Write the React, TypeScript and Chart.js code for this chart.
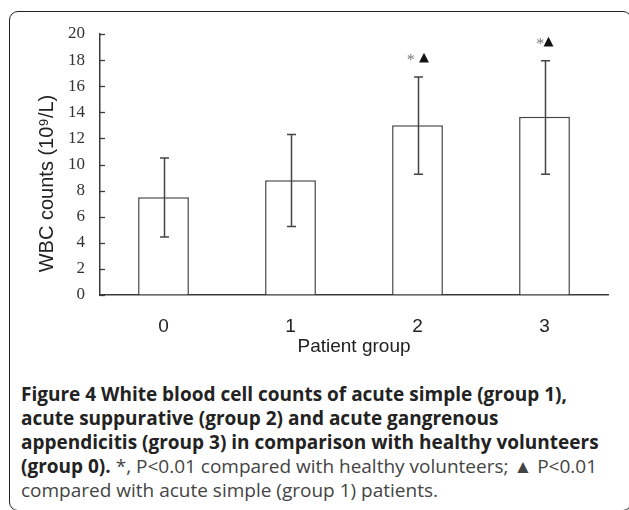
import React, { useEffect, useRef } from "react";
import { Chart, registerables } from "chart.js";

Chart.register(...registerables);

const groups = ["0", "1", "2", "3"];
const meanWBC = [7.5, 8.8, 13.0, 13.65];
const errLow = [4.45, 5.25, 9.25, 9.25];
const errHigh = [10.5, 12.3, 16.7, 17.95];
const marks = ["", "", "* ▲", "*▲"];
const yTicks = [0, 2, 4, 6, 8, 10, 12, 14, 16, 18, 20];
const xTitle = "Patient group";
const yTitle = "WBC counts (10⁹/L)";

const lineColor = "#3a3a3a";

const extrasPlugin = {
  id: "extras",
  afterDatasetsDraw(chart: any) {
    const ctx = chart.ctx;
    const ys = chart.scales.y;
    const area = chart.chartArea;
    const meta = chart.getDatasetMeta(0);
    ctx.save();
    // inner y tick marks
    ctx.strokeStyle = lineColor;
    ctx.lineWidth = 1.3;
    yTicks.forEach((v) => {
      const py = Math.round(ys.getPixelForValue(v)) + 0.5;
      ctx.beginPath();
      ctx.moveTo(area.left, py);
      ctx.lineTo(area.left + 5, py);
      ctx.stroke();
    });
    // error bars
    ctx.lineWidth = 1.5;
    ctx.strokeStyle = "#444";
    meta.data.forEach((el: any, i: number) => {
      const x = Math.round(el.x) + 0.5;
      const yH = ys.getPixelForValue(errHigh[i]);
      const yL = ys.getPixelForValue(errLow[i]);
      ctx.beginPath();
      ctx.moveTo(x, yH);
      ctx.lineTo(x, yL);
      ctx.moveTo(x - 4.5, yH);
      ctx.lineTo(x + 4.5, yH);
      ctx.moveTo(x - 4.5, yL);
      ctx.lineTo(x + 4.5, yL);
      ctx.stroke();
      // significance marks
      const s = marks[i];
      if (s) {
        const fontFor = (c: string) =>
          c === "▲" ? "oblique 13px 'DejaVu Sans'" : "italic 16px 'Liberation Serif'";
        const widths = s.split("").map((c) => {
          ctx.font = fontFor(c);
          return c === " " ? 5 : ctx.measureText(c).width;
        });
        const total = widths.reduce((a, b) => a + b, 0);
        let cx = el.x - total / 2;
        const cy = yH - 19;
        ctx.textBaseline = "middle";
        ctx.textAlign = "left";
        s.split("").forEach((c, k) => {
          if (c !== " ") {
            ctx.font = fontFor(c);
            ctx.fillStyle = c === "▲" ? "#111" : "#777";
            ctx.fillText(c, cx, c === "*" ? cy + 3 : cy);
          }
          cx += widths[k];
        });
      }
    });
    // axis titles
    ctx.fillStyle = "#222";
    ctx.textAlign = "center";
    ctx.textBaseline = "middle";
    ctx.font = "19px 'Liberation Sans'";
    ctx.fillText(xTitle, (area.left + area.right) / 2, area.bottom + 52);
    ctx.translate(area.left - 53, (area.top + area.bottom) / 2 + 19);
    ctx.rotate(-Math.PI / 2);
    ctx.font = "20px 'Liberation Sans'";
    ctx.fillText(yTitle, 0, 0);
    ctx.restore();
  },
};

export default function App() {
  const ref = useRef<HTMLCanvasElement | null>(null);
  useEffect(() => {
    if (!ref.current) return;
    const chart = new Chart(ref.current, {
      type: "bar",
      data: {
        labels: groups,
        datasets: [
          {
            data: meanWBC,
            backgroundColor: "#ffffff",
            borderColor: "#444",
            borderWidth: 1.5,
            barPercentage: 0.4,
            categoryPercentage: 1.0,
          },
        ],
      },
      options: {
        animation: false,
        responsive: false,
        devicePixelRatio: 1,
        layout: { padding: { left: 0, right: 21, top: 34, bottom: 0 } },
        plugins: { legend: { display: false }, tooltip: { enabled: false } },
        scales: {
          x: {
            grid: { display: false, drawTicks: false },
            border: { display: true, color: lineColor, width: 1.5 },
            ticks: {
              padding: 20,
              color: "#222",
              font: { family: "'Liberation Sans'", size: 19 },
            },
            afterFit: (axis: any) => {
              axis.height = 75;
            },
          },
          y: {
            min: 0,
            max: 20,
            grid: { display: true, drawOnChartArea: false, drawTicks: false },
            border: { display: true, color: lineColor, width: 1.5 },
            ticks: {
              stepSize: 2,
              padding: 15,
              color: "#333",
              font: { family: "'Liberation Serif'", size: 17 },
            },
            afterFit: (axis: any) => {
              axis.width = 100;
            },
          },
        },
      },
      plugins: [extrasPlugin],
    });
    return () => chart.destroy();
  }, []);

  return (
    <div
      style={{
        position: "absolute",
        left: 0,
        top: 0,
        width: 629,
        height: 510,
        overflow: "hidden",
        background: "#fff",
      }}
    >
      <div
        style={{
          position: "absolute",
          left: 9,
          top: 11,
          width: 623,
          height: 500,
          border: "1.6px solid #222",
          borderRadius: 9,
          boxSizing: "border-box",
        }}
      />
      <canvas
        ref={ref}
        width={629}
        height={370}
        style={{ position: "absolute", left: 0, top: 0, width: 629, height: 370 }}
      />
      <div
        style={{
          position: "absolute",
          left: 21,
          top: 382,
          fontFamily: "'Open Sans', sans-serif",
          fontSize: 19,
          lineHeight: "24px",
          color: "#444",
          whiteSpace: "nowrap",
        }}
      >
        <b style={{ color: "#222" }}>Figure 4 White blood cell counts of acute simple (group 1),</b>
        <br />
        <b style={{ color: "#222" }}>acute suppurative (group 2) and acute gangrenous</b>
        <br />
        <b style={{ color: "#222" }}>appendicitis (group 3) in comparison with healthy volunteers</b>
        <br />
        <b style={{ color: "#222" }}>(group 0).</b> *, P&lt;0.01 compared with healthy volunteers; ▲ P&lt;0.01
        <br />
        compared with acute simple (group 1) patients.
      </div>
    </div>
  );
}
